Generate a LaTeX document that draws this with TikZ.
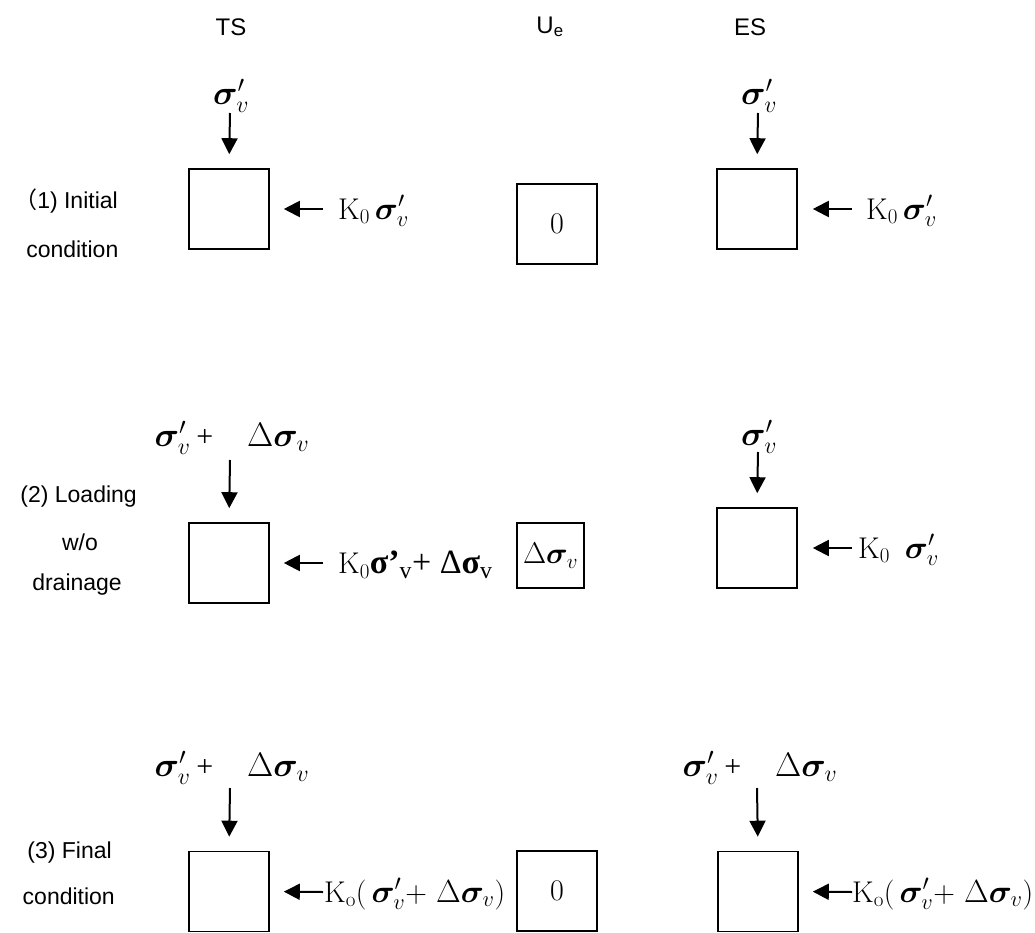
\RequirePackage{fix-cm}
\documentclass[tikz,border=0pt]{standalone}
\usepackage{amsmath,bm}
\usepackage{fontspec}
\newfontfamily\arial{Liberation Sans}
\newfontfamily\tnr{Liberation Serif}
\newfontfamily\cjk{Noto Sans CJK SC}
\usetikzlibrary{arrows.meta}
\newcommand\sg{\fontsize{34}{38}\selectfont}
\newcommand\sk{\fontsize{32}{36}\selectfont}
\newcommand\pl{\,{\tnr\fontsize{30}{34}\selectfont+}}
\begin{document}
\begin{tikzpicture}[x=1pt,y=-1pt,
  box/.style={draw,line width=1.6pt,minimum size=80pt,inner sep=0pt,font=\fontsize{30}{34}\selectfont},
  arr/.style={line width=2pt,-{Triangle[length=16pt,width=16pt]}},
  head/.style={font=\arial\fontsize{24}{28}\selectfont,inner sep=0pt},
  rowlab/.style={font=\arial\fontsize{23}{27}\selectfont,inner sep=0pt},
  sig/.style={font=\sg,inner sep=0pt},
  klab/.style={font=\fontsize{30}{34}\selectfont,inner sep=0pt,anchor=west}]
\path[use as bounding box] (0,0) rectangle (1035,933);

% column headings
\node[head] (hts) at (231,27) {TS};
\node[head] (hue) at (550,27) {U\textsubscript{e}};
\node[head] (hes) at (750,27) {ES};

% row labels
\node[rowlab,anchor=east] (r1a) at (118,201) {{\cjk （}1) Initial};
\node[rowlab,anchor=west] (r1b) at (r1a.west |- 0,249) {\hspace*{12pt}condition};
\node[rowlab,anchor=east] (r2a) at (137,497) {(2) Loading};
\node[rowlab] (r2b) at (80,542) {w/o};
\node[rowlab,anchor=east] (r2c) at (122,585) {drainage};
\node[rowlab,anchor=east] (r3a) at (112,853) {(3) Final};
\node[rowlab,anchor=east] (r3b) at (115,896) {condition};

% ---------- row 1 ----------
\node[box] (b1t) at (229,209) {};
\node[box] (b1u) at (557,224) {0};
\node[box] (b1e) at (757,209) {};
\node[sig] (s1t) at (231,96) {$\bm{\sigma}'_{v}$};
\node[sig] (s1e) at (759,96) {$\bm{\sigma}'_{v}$};
\coordinate (d1t) at (230,113);
\coordinate (d1e) at (758,113);
\draw[arr,shorten >=14pt] (d1t) -- (b1t.north);
\draw[arr,shorten >=14pt] (d1e) -- (b1e.north);
\coordinate (h1t) at (323,209);
\coordinate (h1e) at (852,209);
\draw[arr,shorten >=14pt] (h1t) -- (b1t.east);
\draw[arr,shorten >=15pt] (h1e) -- (b1e.east);
\node[klab] (k1t) at (338,211) {K$_0$\,{\sk$\bm{\sigma}'_{v}$}};
\node[klab] (k1e) at (866,211) {K$_0$\,{\sk$\bm{\sigma}'_{v}$}};

% ---------- row 2 ----------
\node[box] (b2t) at (229,563) {};
\node[box,minimum width=67pt,minimum height=65pt] (b2u) at (550.5,555.5) {\fontsize{30}{34}\selectfont$\Delta\bm{\sigma}_{v}$};
\node[box] (b2e) at (757,548) {};
\node[sig] (s2t) at (232,438) {$\bm{\sigma}'_{v}$\pl\quad$\Delta\bm{\sigma}_{v}$};
\node[sig] (s2e) at (759,437) {$\bm{\sigma}'_{v}$};
\coordinate (d2t) at (230,460);
\coordinate (d2e) at (758,452);
\draw[arr,shorten >=14pt] (d2t) -- (b2t.north);
\draw[arr,shorten >=14pt] (d2e) -- (b2e.north);
\coordinate (h2t) at (323,563);
\coordinate (h2e) at (852,548);
\draw[arr,shorten >=14pt] (h2t) -- (b2t.east);
\draw[arr,shorten >=15pt] (h2e) -- (b2e.east);
\node[klab] (k2t) at (338,565) {K$_0${\tnr\fontsize{34}{38}\selectfont{\bfseries σ’}\textsubscript{v}+ Δ{\bfseries σ}\textsubscript{v}}};
\node[klab] (k2e) at (858,550) {K$_0$\enspace{\sk$\bm{\sigma}'_{v}$}};

% ---------- row 3 ----------
\node[box] (b3t) at (229,891.5) {};
\node[box] (b3u) at (557,891) {0};
\node[box] (b3e) at (758,891.5) {};
\node[sig] (s3t) at (232,768) {$\bm{\sigma}'_{v}$\pl\quad$\Delta\bm{\sigma}_{v}$};
\node[sig] (s3e) at (760,768) {$\bm{\sigma}'_{v}$\pl\quad$\Delta\bm{\sigma}_{v}$};
\coordinate (d3t) at (230,788);
\coordinate (d3e) at (757,788);
\draw[arr,shorten >=14pt] (d3t) -- (b3t.north);
\draw[arr,shorten >=14pt] (d3e) -- (b3e.north);
\coordinate (h3t) at (323,892);
\coordinate (h3e) at (852,892);
\draw[arr,shorten >=14pt] (h3t) -- (b3t.east);
\draw[arr,shorten >=14pt] (h3e) -- (b3e.east);
\node[klab] (k3t) at (324,894) {K$_\mathrm{o}$(\,{\sk$\bm{\sigma}'_{v}$}+ {\sk$\Delta\bm{\sigma}_{v}$})};
\node[klab] (k3e) at (852,894) {K$_\mathrm{o}$(\,{\sk$\bm{\sigma}'_{v}$}+ {\sk$\Delta\bm{\sigma}_{v}$})};
\end{tikzpicture}
\end{document}
